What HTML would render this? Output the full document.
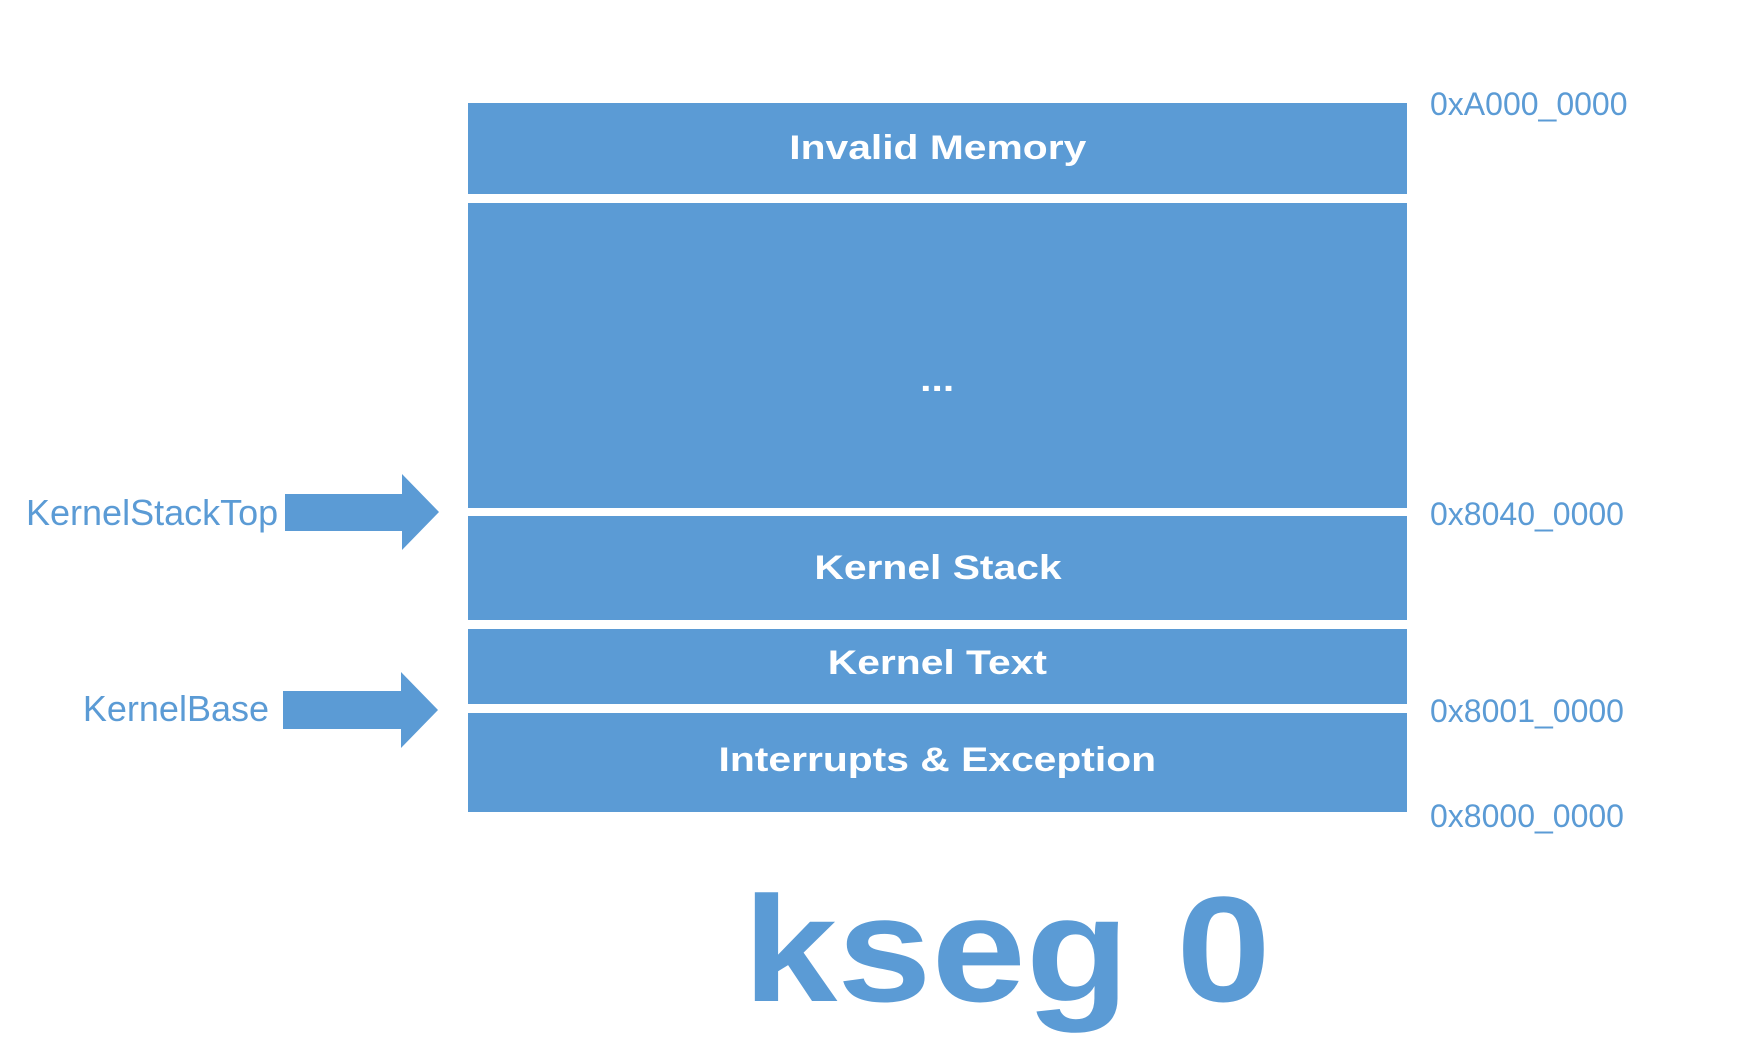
<!DOCTYPE html>
<html><head><style>
body{margin:0;width:1762px;height:1038px;background:#fff;position:relative;overflow:hidden;font-family:"Liberation Sans",Arial,sans-serif}
.b{position:absolute;left:468px;width:939px;background:#5b9bd5;color:#fff;font-weight:bold;font-size:34px;display:flex;align-items:center;justify-content:center}
.b span{display:inline-block;transform:scaleX(1.2)}
.a{position:absolute;color:#5b9bd5;font-size:32px;line-height:1;transform:translateY(-50%)}
.l{position:absolute;color:#5b9bd5;font-size:36px;line-height:1;transform:translateY(-50%)}
</style></head><body>
<div class="b" style="top:103px;height:91px"><span>Invalid Memory</span></div>
<div class="b" style="top:203px;height:305px"><span style="margin-top:50px">...</span></div>
<div class="b" style="top:516px;height:104px"><span>Kernel Stack</span></div>
<div class="b" style="top:629px;height:75px"><span style="margin-top:-6px">Kernel Text</span></div>
<div class="b" style="top:713px;height:99px"><span style="margin-top:-4px">Interrupts &amp; Exception</span></div>
<div class="a" style="left:1430px;top:104px">0xA000_0000</div>
<div class="a" style="left:1430px;top:514px">0x8040_0000</div>
<div class="a" style="left:1430px;top:711px">0x8001_0000</div>
<div class="a" style="left:1430px;top:816px">0x8000_0000</div>
<div class="l" style="left:26px;top:513px">KernelStackTop</div>
<div class="l" style="right:1493px;top:709px">KernelBase</div>
<svg width="1762" height="1038" style="position:absolute;left:0;top:0">
<polygon fill="#5b9bd5" points="285,494 402,494 402,474 439,512 402,550 402,531 285,531"/>
<polygon fill="#5b9bd5" points="283,691 401,691 401,672 438,710 401,748 401,729 283,729"/>
</svg>
<div style="position:absolute;left:743px;top:874px;color:#5b9bd5;font-weight:bold;font-size:150px;line-height:1;transform:scaleX(1.13);transform-origin:left top;white-space:nowrap">kseg 0</div>
</body></html>
